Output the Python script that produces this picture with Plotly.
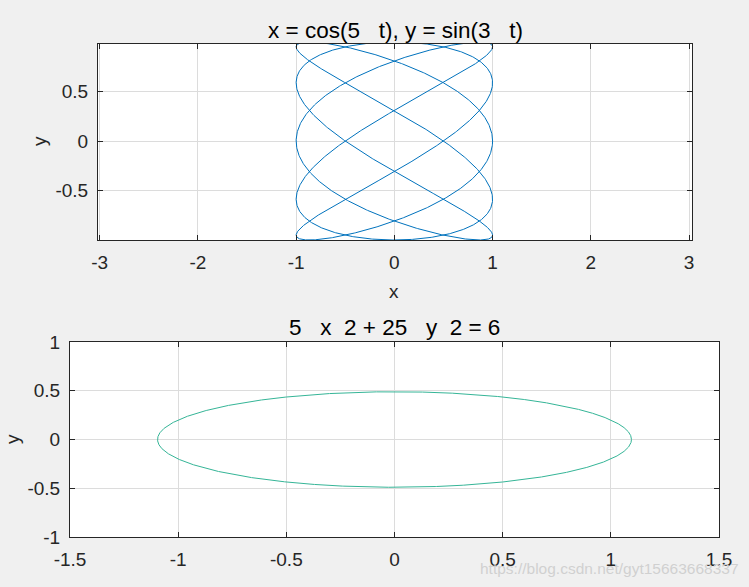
import numpy as np
import plotly.graph_objects as go

# --- data (parameters of the curves named in the titles) ---
lissajous_freq_x = [5]      # x = cos(5 t)
lissajous_freq_y = [3]      # y = sin(3 t)
ellipse_coef = [5, 25, 6]   # 5 x^2 + 25 y^2 = 6
top_xticks = [-3, -2, -1, 0, 1, 2, 3]
top_yticks = [-0.5, 0, 0.5]
bot_xticks = [-1.5, -1, -0.5, 0, 0.5, 1, 1.5]
bot_yticks = [-1, -0.5, 0, 0.5, 1]
top_title = "x = cos(5\u00a0\u00a0\u00a0t), y = sin(3\u00a0\u00a0\u00a0t)"
bot_title = "5\u00a0\u00a0\u00a0x\u00a0\u00a02 + 25\u00a0\u00a0\u00a0y\u00a0\u00a02 = 6"

t = np.linspace(0, 2 * np.pi, 3000)
x1 = np.cos(lissajous_freq_x[0] * t)
y1 = np.sin(lissajous_freq_y[0] * t)
a, b, c = ellipse_coef
x2 = np.sqrt(c / a) * np.cos(t)
y2 = np.sqrt(c / b) * np.sin(t)

W, H = 749, 587
def px(v): return v / W
def py(v): return 1 - v / H

FONT = "Liberation Sans, Arial, sans-serif"
AX = "#262626"

fig = go.Figure()
fig.add_trace(go.Scatter(x=x1, y=y1, mode="lines", line=dict(color="#0072BD", width=1),
                         xaxis="x", yaxis="y", showlegend=False, hoverinfo="skip"))
fig.add_trace(go.Scatter(x=x2, y=y2, mode="lines", line=dict(color="#35B597", width=1),
                         xaxis="x2", yaxis="y2", showlegend=False, hoverinfo="skip"))

common = dict(showline=True, linecolor=AX, linewidth=1, mirror="ticks", ticks="inside",
              ticklen=5, tickcolor=AX, tickwidth=1, showgrid=True, gridcolor="#dcdcdc",
              gridwidth=1, zeroline=False, tickfont=dict(family=FONT, size=19, color=AX),
              automargin=False)
xc = dict(common, ticklabelstandoff=5)
yc = dict(common, ticklabelstandoff=5)

fig.update_layout(
    width=W, height=H, margin=dict(l=0, r=0, t=0, b=0, pad=0), autosize=False,
    paper_bgcolor="#f0f0f0", plot_bgcolor="white",
    xaxis=dict(domain=[px(98), px(692)], range=[-3.017, 3.03], tickvals=top_xticks,
               ticktext=[str(v) for v in top_xticks], anchor="y", **xc),
    yaxis=dict(domain=[py(240), py(44)], range=[-1.0, 0.98], tickvals=top_yticks,
               ticktext=["-0.5", "0", "0.5"], anchor="x", **yc),
    xaxis2=dict(domain=[px(70), px(719)], range=[-1.5, 1.5], tickvals=bot_xticks,
                ticktext=["-1.5", "-1", "-0.5", "0", "0.5", "1", "1.5"], anchor="y2", **xc),
    yaxis2=dict(domain=[py(537), py(342)], range=[-1, 1], tickvals=bot_yticks,
                ticktext=["-1", "-0.5", "0", "0.5", "1"], anchor="x2", **yc),
)

def ann(text, x, y, size, rot=0, color="black", xanchor="center"):
    fig.add_annotation(text=text, x=px(x), y=py(y), xref="paper", yref="paper",
                       showarrow=False, xanchor=xanchor, yanchor="middle", textangle=rot,
                       font=dict(family=FONT, size=size, color=color))

ann(top_title, 395, 30, 22.5)
ann(bot_title, 394, 327, 22.5)
ann("x", 394, 292, 19, color=AX)
ann("y", 40, 141, 19, rot=-90, color=AX)
ann("x", 394, 594, 19, color=AX)
ann("y", 12, 439, 19, rot=-90, color=AX)
ann("https://blog.csdn.net/gyt15663668337", 741, 568, 15.5, color="#d0d0d0", xanchor="right")

fig.write_html("out.html", config={"displayModeBar": False}, post_script=(
    "document.body.style.margin='0';document.body.style.padding='0';"
    "document.body.style.overflow='hidden';document.documentElement.style.overflow='hidden';"))
